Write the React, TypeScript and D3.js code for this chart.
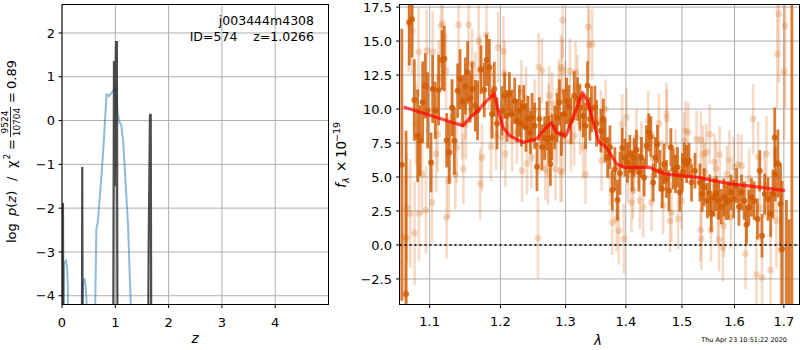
import * as d3 from 'd3';

// tick values
const zTicks = [0, 1, 2, 3, 4];
const logPzTicks = [-4, -3, -2, -1, 0, 1, 2];
const waveTicks = [1.1, 1.2, 1.3, 1.4, 1.5, 1.6, 1.7];
const fluxTicks = [-2.5, 0, 2.5, 5, 7.5, 10, 12.5, 15, 17.5];

// p(z) (black) and chi2 curve (blue), values below the axis are clipped
const pzZ = [0.0, 0.005, 0.018, 0.03, 0.37, 0.38, 0.392, 0.955, 0.975, 0.99, 1.005, 1.015, 1.03, 1.045, 1.605, 1.625, 1.65, 1.665, 1.68, 5.0];
const pzLog = [-8, -8, -1.88, -8, -8, -1.06, -8, -8, 1.36, -1.5, 1.2, 1.79, 1.79, -8, -8, -3.0, 0.1, 0.15, -8, -8];

const chiZ = [0.0, 0.015, 0.04, 0.075, 0.095, 0.11, 0.125, 0.355, 0.39, 0.42, 0.44, 0.47, 0.49, 0.6, 0.645, 0.67, 0.74, 0.79, 0.835, 0.86, 0.88, 0.93, 0.98, 1.01, 1.04, 1.08, 1.11, 1.15, 1.24, 1.34, 5.0];
const chiLog = [-6, -6, -3.25, -3.2, -3.35, -3.8, -6, -6, -3.75, -3.6, -3.75, -4.3, -6, -6, -2.46, -2.34, -1.27, -0.36, 0.6, 0.58, 0.56, 0.63, 0.71, 0.75, 0.18, -0.05, -0.09, -0.51, -2.42, -6, -6];

// best-fit model (red)
const modelWave = [1.0655, 1.1461, 1.1549, 1.1673, 1.1799, 1.1910, 1.1965, 1.2038, 1.2137, 1.2338, 1.2542, 1.2697, 1.2775, 1.2854, 1.3006, 1.3140, 1.3275, 1.3356, 1.3544, 1.3640, 1.3720, 1.3840, 1.3980, 1.4420, 1.4540, 1.4690, 1.5290, 1.5915, 1.6365, 1.7025];
const modelFlux = [10.15, 8.77, 9.3, 9.9, 10.6, 11.15, 9.9, 8.65, 8.04, 7.54, 7.79, 8.65, 9.0, 8.28, 8.04, 9.63, 11.2, 10.6, 7.54, 7.3, 6.81, 5.96, 5.71, 5.71, 5.46, 5.22, 4.97, 4.49, 4.31, 4.0];

// binned spectrum: [wavelength, flux, error]
const binned: [number, number, number][] = [
  [1.0630, 5.9, 10], [1.0686, -3.6, 12], [1.0729, 16.4, 3.2], [1.0765, 16.6, 2.8], [1.0795, 10.66, 3.0],
  [1.0839, 8.04, 3.4], [1.0871, 7.67, 2.6], [1.0906, 10.49, 3.0], [1.0942, 11.7, 2.4], [1.0973, 9.9, 2.8],
  [1.1019, 6.07, 2.2], [1.1041, 11.47, 2.5], [1.1077, 9.9, 2.1], [1.1122, 11.4, 2.6], [1.1169, 13.6, 2.2],
  [1.1200, 13.7, 2.4], [1.1232, 7.7, 2.0], [1.1269, 6.8, 2.3], [1.1307, 10.1, 2.1], [1.1339, 7.67, 2.5],
  [1.1385, 11.35, 2.0], [1.1419, 12.2, 2.2], [1.1455, 10.6, 1.9], [1.1493, 11.7, 2.1], [1.1526, 12.7, 2.3],
  [1.1560, 10.8, 1.8], [1.1589, 11.47, 2.0], [1.1635, 10.24, 1.9], [1.1668, 9.9, 2.2], [1.1717, 12.9, 1.8],
  [1.1764, 11.4, 2.0], [1.1797, 13.6, 1.9], [1.1837, 13.06, 2.1], [1.1876, 9.63, 1.8], [1.1910, 11.47, 2.0],
  [1.1949, 8.94, 1.9], [1.2024, 9.87, 1.8], [1.2063, 10.98, 1.7], [1.2097, 9.5, 1.9], [1.2133, 11.1, 1.6],
  [1.2172, 9.63, 1.8], [1.2212, 10.6, 1.7], [1.2246, 9.14, 1.6], [1.2283, 9.87, 1.9], [1.2313, 8.94, 1.7],
  [1.2348, 10.17, 1.6], [1.2383, 8.65, 1.8], [1.2414, 9.26, 1.7], [1.2450, 8.28, 1.6], [1.2475, 9.38, 1.8],
  [1.2515, 8.77, 1.7], [1.2551, 5.76, 1.8], [1.2589, 9.26, 1.6], [1.2629, 7.18, 1.7], [1.2670, 7.87, 1.6],
  [1.2707, 8.77, 1.8], [1.2734, 7.79, 1.7], [1.2760, 5.96, 1.6], [1.2785, 7.91, 1.7], [1.2828, 8.65, 1.6],
  [1.2864, 9.38, 1.8], [1.2902, 10.49, 1.7], [1.2933, 8.16, 1.6], [1.2970, 9.63, 1.8], [1.3016, 10.6, 1.7],
  [1.3054, 10.17, 1.6], [1.3086, 9.14, 1.7], [1.3140, 10.98, 1.8], [1.3193, 10.74, 1.6], [1.3232, 10.12, 1.7],
  [1.3285, 9.5, 1.6], [1.3323, 8.77, 1.7], [1.3356, 11.71, 1.8], [1.3395, 9.26, 1.6], [1.3421, 10.0, 1.7],
  [1.3478, 10.12, 1.6], [1.3504, 8.94, 1.7], [1.3578, 8.4, 1.6], [1.3617, 9.26, 1.5], [1.3645, 7.67, 1.6],
  [1.3689, 6.44, 1.5], [1.3729, 7.18, 1.6], [1.3768, 4.04, 1.5], [1.3813, 5.59, 1.6], [1.3857, 3.31, 1.5],
  [1.3898, 5.27, 1.6], [1.3937, 7.13, 1.5], [1.3983, 6.44, 1.4], [1.4028, 6.07, 1.5], [1.4069, 6.69, 1.4],
  [1.4109, 5.46, 1.5], [1.4143, 6.44, 1.4], [1.4183, 6.98, 1.5], [1.4225, 5.34, 1.4], [1.4270, 6.44, 1.5],
  [1.4318, 4.97, 1.4], [1.4358, 7.3, 1.5], [1.4401, 8.28, 1.4], [1.4436, 7.96, 1.5], [1.4477, 4.6, 1.4],
  [1.4518, 6.44, 1.5], [1.4554, 7.43, 1.4], [1.4597, 5.46, 1.5], [1.4638, 4.12, 1.4], [1.4675, 5.96, 1.5],
  [1.4716, 4.85, 1.4], [1.4760, 3.99, 1.5], [1.4796, 7.18, 1.4], [1.4838, 5.59, 1.5], [1.4880, 5.22, 1.4],
  [1.4917, 5.71, 1.5], [1.4961, 3.87, 1.4], [1.5006, 5.34, 1.4], [1.5042, 6.2, 1.3], [1.5085, 5.96, 1.4],
  [1.5129, 6.2, 1.3], [1.5177, 4.6, 1.4], [1.5241, 5.46, 1.3], [1.5334, 4.6, 1.4], [1.5376, 3.75, 1.3],
  [1.5414, 4.24, 1.4], [1.5475, 3.26, 1.3], [1.5520, 3.79, 1.4], [1.5550, 2.28, 1.3], [1.5601, 3.5, 1.4],
  [1.5645, 3.79, 1.3], [1.5690, 3.26, 1.4], [1.5740, 2.82, 1.3], [1.5791, 3.5, 1.4], [1.5835, 3.13, 1.3],
  [1.5881, 3.26, 1.4], [1.5931, 3.87, 1.3], [1.5983, 3.38, 1.4], [1.6039, 4.36, 1.3], [1.6087, 2.82, 1.4],
  [1.6138, 3.87, 1.3], [1.6192, 3.26, 1.4], [1.6237, 1.49, 1.4], [1.6285, 2.76, 1.3], [1.6337, 3.5, 1.4],
  [1.6390, 3.26, 1.4], [1.6456, 1.91, 1.5], [1.6504, 5.46, 1.5], [1.6550, 0.68, 1.6], [1.6605, 3.75, 1.5],
  [1.6672, 3.38, 1.6], [1.6727, 2.28, 1.7], [1.6774, 3.75, 1.8], [1.6810, 7.91, 2.2], [1.6821, 5.22, 2.0],
  [1.6876, 6.0, 2.5], [1.6931, 3.01, 3.0], [1.6960, -0.3, 5.0], [1.7054, -5.5, 8.8], [1.7111, -5.5, 7.4],
  [1.7168, 20, 26],
];

// unbinned spectrum: [wavelength, flux, error]
const unbinned: [number, number, number][] = [
  [1.0663, 0.56, 4.5], [1.0686, 0.51, 5.0], [1.0699, 2.72, 4.0], [1.0720, 16.25, 3.5], [1.0742, 2.32, 4.0],
  [1.0765, 15.76, 3.2], [1.0799, 0.88, 3.8], [1.0815, 8.94, 3.0], [1.0852, 14.2, 3.2], [1.0856, 2.32, 3.5],
  [1.0898, 5.2, 3.0], [1.0950, 2.57, 3.2], [1.0960, 14.3, 3.0], [1.1032, 3.13, 3.0], [1.1041, 14.2, 3.0],
  [1.1087, 6.7, 2.8], [1.1109, 8.16, 2.8], [1.1122, 12.3, 2.8], [1.1155, 16.1, 3.0], [1.1177, 16.3, 3.0],
  [1.1224, 12.8, 2.8], [1.1232, 2.03, 3.0], [1.1260, 4.73, 2.8], [1.1307, 9.4, 2.7], [1.1353, 5.2, 2.6],
  [1.1371, 7.18, 2.6], [1.1399, 16.2, 3.0], [1.1447, 8.9, 2.6], [1.1465, 5.6, 2.6], [1.1493, 10.4, 2.6],
  [1.1503, 8.9, 2.6], [1.1540, 16.2, 3.0], [1.1589, 13.3, 2.6], [1.1635, 11.6, 2.6], [1.1682, 15.0, 2.8],
  [1.1702, 12.87, 2.6], [1.1705, 4.49, 2.6], [1.1731, 6.44, 2.5], [1.1797, 15.46, 2.8], [1.1837, 12.57, 2.5],
  [1.1862, 7.23, 2.5], [1.1876, 10.8, 2.5], [1.1935, 8.04, 2.5], [1.1967, 14.53, 2.6], [1.2024, 7.91, 2.4],
  [1.2044, 14.24, 2.6], [1.2063, 12.62, 2.4], [1.2074, 6.69, 2.4], [1.2133, 10.2, 2.3], [1.2172, 7.67, 2.3],
  [1.2246, 8.3, 2.3], [1.2313, 11.22, 2.4], [1.2323, 5.46, 2.3], [1.2383, 10.8, 2.3], [1.2399, 6.0, 2.3],
  [1.2466, 6.44, 2.3], [1.2515, 9.9, 2.3], [1.2567, 0.51, 3.0], [1.2578, 13.1, 2.5], [1.2589, 7.4, 2.2],
  [1.2629, 12.8, 2.4], [1.2682, 5.59, 2.3], [1.2723, 5.27, 2.3], [1.2734, 9.63, 2.2], [1.2740, 10.98, 2.2],
  [1.2785, 10.4, 2.3], [1.2839, 5.59, 2.3], [1.2864, 8.1, 2.2], [1.2891, 11.35, 2.3], [1.2918, 5.46, 2.3],
  [1.2925, 13.06, 2.4], [1.2943, 5.34, 2.2], [1.2948, 12.8, 2.4], [1.2954, 16.54, 2.8], [1.2990, 7.67, 2.2],
  [1.2995, 11.35, 2.2], [1.3070, 12.8, 2.4], [1.3086, 7.6, 2.2], [1.3140, 8.04, 2.2], [1.3161, 12.69, 2.3],
  [1.3193, 11.71, 2.3], [1.3232, 8.9, 2.3], [1.3285, 7.18, 2.3], [1.3323, 5.2, 2.2], [1.3368, 16.05, 2.8],
  [1.3380, 14.73, 2.6], [1.3433, 14.78, 2.6], [1.3578, 9.19, 2.2], [1.3588, 6.2, 2.2], [1.3655, 10.0, 2.2],
  [1.3729, 5.1, 2.2], [1.3768, 1.66, 2.4], [1.3840, 1.91, 2.4], [1.3880, 1.05, 2.5], [1.3937, 8.9, 2.2],
  [1.3966, 0.44, 2.6], [1.4010, 9.38, 2.2], [1.4040, 5.22, 2.1], [1.4097, 3.13, 2.2], [1.4126, 3.99, 2.1],
  [1.4143, 5.9, 2.1], [1.4183, 7.91, 2.1], [1.4242, 3.26, 2.1], [1.4270, 7.0, 2.1], [1.4300, 2.76, 2.2],
  [1.4388, 9.14, 2.2], [1.4447, 3.13, 2.1], [1.4477, 6.3, 2.1], [1.4579, 8.94, 2.2], [1.4638, 5.6, 2.1],
  [1.4656, 2.89, 2.1], [1.4716, 9.63, 2.3], [1.4722, 9.26, 2.2], [1.4778, 1.79, 2.3], [1.4807, 2.4, 2.2],
  [1.4880, 6.4, 2.1], [1.4928, 1.91, 2.2], [1.4993, 3.26, 2.1], [1.5042, 7.67, 2.1], [1.5066, 8.4, 2.2],
  [1.5116, 8.28, 2.2], [1.5270, 7.79, 2.1], [1.5345, 1.1, 2.3], [1.5352, 7.72, 2.1], [1.5360, 0.44, 2.3],
  [1.5395, 6.69, 2.1], [1.5420, 5.4, 2.1], [1.5456, 6.81, 2.1], [1.5520, 8.16, 2.2], [1.5543, 1.1, 2.3],
  [1.5610, 6.1, 2.1], [1.5645, 5.59, 2.1], [1.5676, 2.15, 2.2], [1.5697, 0.37, 2.3], [1.5709, 6.64, 2.1],
  [1.5772, -0.17, 2.5], [1.5791, 1.42, 2.3], [1.5850, 5.2, 2.1], [1.5900, 6.25, 2.2], [1.5931, 2.03, 2.3],
  [1.5985, 5.76, 2.2], [1.6070, 5.9, 2.3], [1.6138, 5.83, 2.3], [1.6218, -0.66, 2.6], [1.6237, 2.28, 2.4],
  [1.6290, 4.9, 2.2], [1.6370, 9.26, 2.6], [1.6436, -2.18, 2.8], [1.6470, 6.49, 2.6], [1.6504, 2.76, 2.5],
  [1.6550, -2.38, 2.8], [1.6600, 4.4, 2.5], [1.6641, 6.69, 2.8], [1.6727, -1.84, 3.0], [1.6845, 1.79, 3.5],
  [1.6862, 14.04, 4.0], [1.6896, 16.99, 5.0], [1.6931, -0.42, 4.0], [1.7006, 12.76, 5.0], [1.7027, 16.12, 6.0],
];

const FONT = 'DejaVu Sans';
const ORANGE = '#d05a00';
const GRID = '#b0b0b0';
const minus = (s: string) => s.replace('-', '\u2212');

export default function App() {
  // left panel: redshift
  const zX = d3.scaleLinear().domain([0, 5]).range([62, 328.5]);
  const pY = d3.scaleLinear().domain([-4.2, 2.65]).range([304.5, 4.5]);
  // right panel: spectrum
  const wX = d3.scaleLog().domain([1.06, 1.733]).range([399.5, 799.5]);
  const fY = d3.scaleLinear().domain([-4.38, 17.69]).range([304.5, 4.5]);

  const pzLine = d3.line<number>().x((d, i) => zX(pzZ[i])).y(d => pY(d));
  const chiLine = d3.line<number>().x((d, i) => zX(chiZ[i])).y(d => pY(d));
  const modelLine = d3.line<number>().x((d, i) => wX(modelWave[i])).y(d => fY(d));

  const [lx0, lx1] = zX.range();
  const [ly0, ly1] = pY.range();
  const [rx0, rx1] = wX.range();
  const [ry0, ry1] = fY.range();

  return (
    <svg width={800} height={350} style={{ position: 'absolute', left: 0, top: 0, background: '#fff' }}
      fontFamily={FONT}>
      <defs>
        <clipPath id="clipL"><rect x={lx0} y={ly1} width={lx1 - lx0} height={ly0 - ly1} /></clipPath>
        <clipPath id="clipR"><rect x={rx0} y={ry1} width={rx1 - rx0} height={ry0 - ry1} /></clipPath>
      </defs>

      {/* ---------- left panel ---------- */}
      <g>
        {zTicks.map(t => (
          <line key={'gx' + t} x1={zX(t)} x2={zX(t)} y1={ly1} y2={ly0} stroke={GRID} strokeWidth={1} />
        ))}
        {logPzTicks.map(t => (
          <line key={'gy' + t} x1={lx0} x2={lx1} y1={pY(t)} y2={pY(t)} stroke={GRID} strokeWidth={1} />
        ))}
        <g clipPath="url(#clipL)">
          <path d={chiLine(chiLog) ?? ''} fill="none" stroke="#1f77b4" strokeOpacity={0.5} strokeWidth={2} />
          <path d={pzLine(pzLog) ?? ''} fill="none" stroke="#222" strokeOpacity={0.8} strokeWidth={2.2} />
        </g>
        <rect x={lx0} y={ly1} width={lx1 - lx0} height={ly0 - ly1} fill="none" stroke="#000" strokeWidth={1} />
        {zTicks.map(t => (
          <g key={'tx' + t}>
            <line x1={zX(t)} x2={zX(t)} y1={ly0} y2={ly0 + 3.5} stroke="#000" />
            <text x={zX(t)} y={327} textAnchor="middle" fontSize={13}>{t}</text>
          </g>
        ))}
        {logPzTicks.map(t => (
          <g key={'ty' + t}>
            <line x1={lx0 - 3.5} x2={lx0} y1={pY(t)} y2={pY(t)} stroke="#000" />
            <text x={55} y={pY(t) + 4.7} textAnchor="end" fontSize={13}>{minus(String(t))}</text>
          </g>
        ))}
        <text x={195} y={343} textAnchor="middle" fontSize={13.5} fontStyle="italic">z</text>
        <text x={314} y={25} textAnchor="end" fontSize={12.5}>j003444m4308</text>
        <text x={314} y={41} textAnchor="end" fontSize={12.5}>{'ID=574\u00a0\u00a0\u00a0\u00a0z=1.0266'}</text>

        {/* y label: log p(z) / chi2 = 9524/10704 = 0.89 */}
        <g transform="translate(16,243) rotate(-90)" fontSize={13}>
          <text x={0} y={0}>log</text>
          <text x={27} y={0}><tspan fontStyle="italic">p</tspan>(<tspan fontStyle="italic">z</tspan>)</text>
          <text x={62} y={0}>/</text>
          <text x={75} y={0}>χ</text>
          <text x={83.5} y={-6} fontSize={9}>2</text>
          <text x={93} y={0}>=</text>
          <text x={121} y={-8} textAnchor="middle" fontSize={9}>9524</text>
          <line x1={106} x2={136} y1={-5.5} y2={-5.5} stroke="#000" strokeWidth={0.8} />
          <text x={121} y={4} textAnchor="middle" fontSize={9}>10704</text>
          <text x={140} y={0}>=</text>
          <text x={154} y={0}>0.89</text>
        </g>
      </g>

      {/* ---------- right panel ---------- */}
      <g>
        {waveTicks.map(t => (
          <line key={'rgx' + t} x1={wX(t)} x2={wX(t)} y1={ry1} y2={ry0} stroke={GRID} strokeWidth={1} />
        ))}
        {fluxTicks.map(t => (
          <line key={'rgy' + t} x1={rx0} x2={rx1} y1={fY(t)} y2={fY(t)} stroke={GRID} strokeWidth={1} />
        ))}
        <g clipPath="url(#clipR)">
          {unbinned.map(([w, f, e], i) => (
            <g key={'u' + i}>
              <line x1={wX(w)} x2={wX(w)} y1={fY(f - e)} y2={fY(f + e)} stroke={ORANGE} strokeOpacity={0.22} strokeWidth={2.6} />
              <circle cx={wX(w)} cy={fY(f)} r={3.4} fill={ORANGE} fillOpacity={0.22} />
            </g>
          ))}
          {binned.map(([w, f, e], i) => (
            <g key={'b' + i}>
              <line x1={wX(w)} x2={wX(w)} y1={fY(f - e)} y2={fY(f + e)} stroke={ORANGE} strokeOpacity={0.8} strokeWidth={2.8} />
              <circle cx={wX(w)} cy={fY(f)} r={3} fill={ORANGE} fillOpacity={0.8} />
            </g>
          ))}
          <line x1={rx0} x2={rx1} y1={fY(0)} y2={fY(0)} stroke="#000" strokeOpacity={0.8} strokeWidth={2} strokeDasharray="2,3" />
          <path d={modelLine(modelFlux) ?? ''} fill="none" stroke="red" strokeOpacity={0.7} strokeWidth={3.2} strokeLinejoin="round" />
        </g>
        <rect x={rx0} y={ry1} width={rx1 - rx0} height={ry0 - ry1} fill="none" stroke="#000" strokeWidth={1} />
        {waveTicks.map(t => (
          <g key={'rtx' + t}>
            <line x1={wX(t)} x2={wX(t)} y1={ry0} y2={ry0 + 3.5} stroke="#000" />
            <text x={wX(t)} y={326} textAnchor="middle" fontSize={13}>{t.toFixed(1)}</text>
          </g>
        ))}
        {fluxTicks.map(t => (
          <g key={'rty' + t}>
            <line x1={rx0 - 3.5} x2={rx0} y1={fY(t)} y2={fY(t)} stroke="#000" />
            <text x={392} y={fY(t) + 4.7} textAnchor="end" fontSize={13}>{minus(t.toFixed(1))}</text>
          </g>
        ))}
        <text x={598} y={345} textAnchor="middle" fontSize={13.5} fontStyle="italic">λ</text>
        <g transform="translate(346,188) rotate(-90)" fontSize={13.5}>
          <text x={0} y={0} fontStyle="italic">f</text>
          <text x={5} y={3} fontSize={9.5} fontStyle="italic">λ</text>
          <text x={16} y={0}>×</text>
          <text x={30} y={0}>10</text>
          <text x={46} y={-6} fontSize={9.5}>−19</text>
        </g>
        <text x={787} y={342} textAnchor="end" fontSize={6.5}>Thu Apr 23 10:51:22 2020</text>
      </g>
    </svg>
  );
}
